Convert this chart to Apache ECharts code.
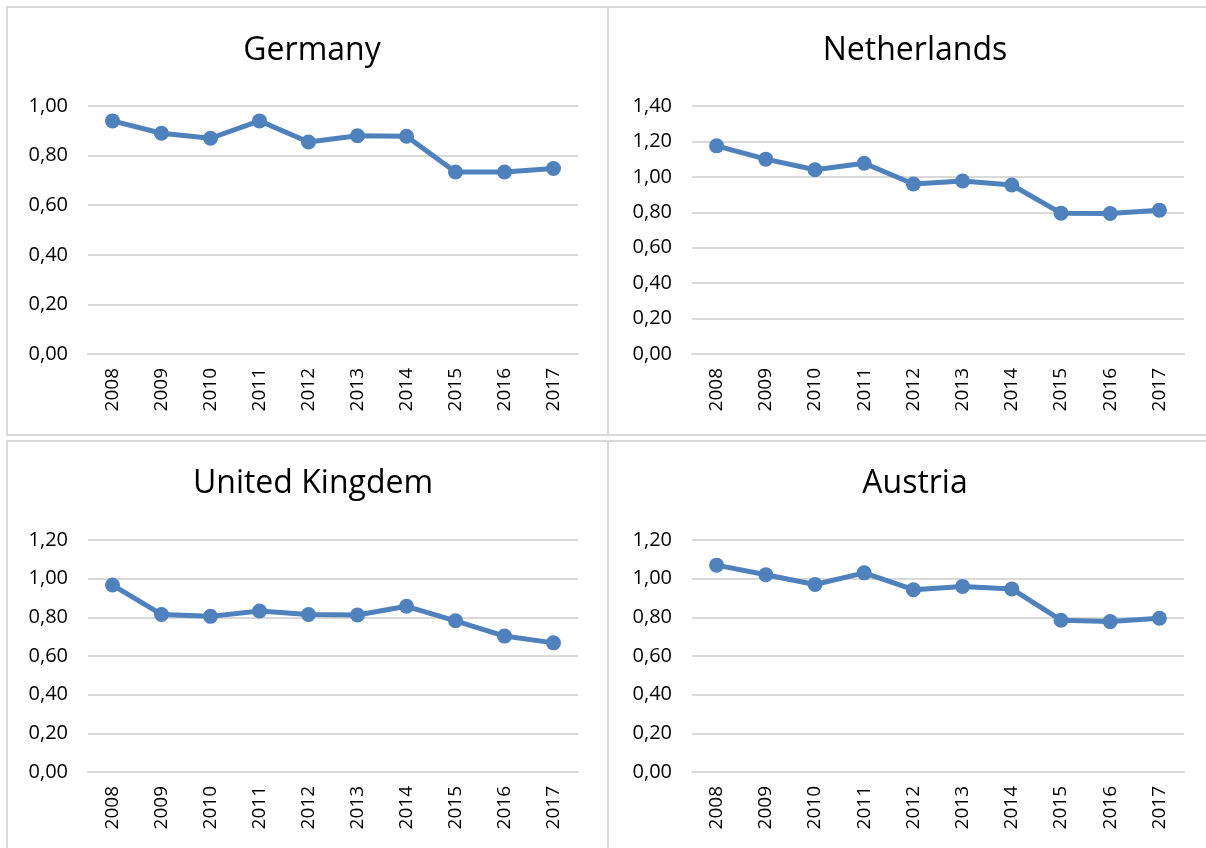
<!DOCTYPE html>
<html>
<head>
<meta charset="utf-8">
<title>Four countries</title>
<script src="https://cdn.jsdelivr.net/npm/echarts@6/dist/echarts.min.js"></script>
<style>
  html, body { margin: 0; padding: 0; background: #fff; }
  #chart { width: 1206px; height: 848px; }
</style>
</head>
<body>
<div id="chart"></div>
<script>
let years = ['2008', '2009', '2010', '2011', '2012', '2013', '2014', '2015', '2016', '2017']
let germany = [0.94, 0.89, 0.87, 0.94, 0.855, 0.88, 0.878, 0.734, 0.734, 0.748]
let netherlands = [1.175, 1.10, 1.04, 1.077, 0.96, 0.977, 0.954, 0.795, 0.793, 0.812]
let unitedKingdom = [0.967, 0.815, 0.805, 0.833, 0.815, 0.812, 0.857, 0.782, 0.703, 0.668]
let austria = [1.07, 1.02, 0.97, 1.03, 0.943, 0.96, 0.947, 0.785, 0.778, 0.795]
let yMax = [1.0, 1.4, 1.2, 1.2]
let titles = ['Germany', 'Netherlands', 'United Kingdem', 'Austria']

let chart = echarts.init(document.getElementById('chart'))

let font = '"Open Sans", "Noto Sans", sans-serif'
let blue = '#4f81bd'
let grey = '#d9d9d9'

let grids = [
    {left: 88, top: 106, width: 490, height: 248},
    {left: 692, top: 106, width: 492, height: 248},
    {left: 88, top: 540, width: 490, height: 232},
    {left: 692, top: 540, width: 492, height: 232}
]
let titlePos = [[307, 30], [910, 30], [308, 463], [910, 463]]
let allData = [germany, netherlands, unitedKingdom, austria]

function comma(v) {
    return v.toFixed(2).replace('.', ',')
}

let option = {
    backgroundColor: '#fff',
    animation: false,
    title: titles.map((t, i) => ({
        text: t,
        left: titlePos[i][0],
        top: titlePos[i][1],
        textAlign: 'center',
        textStyle: {fontFamily: font, fontSize: 32, fontWeight: 'normal', color: '#000'}
    })),
    graphic: [
        {type: 'rect', shape: {x: 7, y: 7, width: 601, height: 428}, style: {fill: 'none', stroke: grey, lineWidth: 2}},
        {type: 'rect', shape: {x: 608, y: 7, width: 602, height: 428}, style: {fill: 'none', stroke: grey, lineWidth: 2}},
        {type: 'rect', shape: {x: 7, y: 441, width: 601, height: 412}, style: {fill: 'none', stroke: grey, lineWidth: 2}},
        {type: 'rect', shape: {x: 608, y: 441, width: 602, height: 412}, style: {fill: 'none', stroke: grey, lineWidth: 2}}
    ],
    grid: grids,
    xAxis: grids.map((g, i) => ({
        type: 'category',
        gridIndex: i,
        data: years,
        boundaryGap: true,
        axisLine: {show: true, lineStyle: {color: grey, width: 2}},
        axisTick: {show: false},
        axisLabel: {rotate: 90, margin: 14, fontFamily: font, fontSize: 19, color: '#000'}
    })),
    yAxis: grids.map((g, i) => ({
        type: 'value',
        gridIndex: i,
        min: 0,
        max: yMax[i],
        interval: 0.2,
        axisLine: {show: false},
        axisTick: {show: false},
        splitLine: {show: true, lineStyle: {color: grey, width: 2}},
        axisLabel: {margin: 20, fontFamily: font, fontSize: 20, color: '#000', formatter: comma}
    })),
    series: allData.map((d, i) => ({
        type: 'line',
        xAxisIndex: i,
        yAxisIndex: i,
        data: d,
        symbol: 'circle',
        symbolSize: 15,
        lineStyle: {color: blue, width: 5},
        itemStyle: {color: blue}
    }))
}

chart.setOption(option)
</script>
</body>
</html>
